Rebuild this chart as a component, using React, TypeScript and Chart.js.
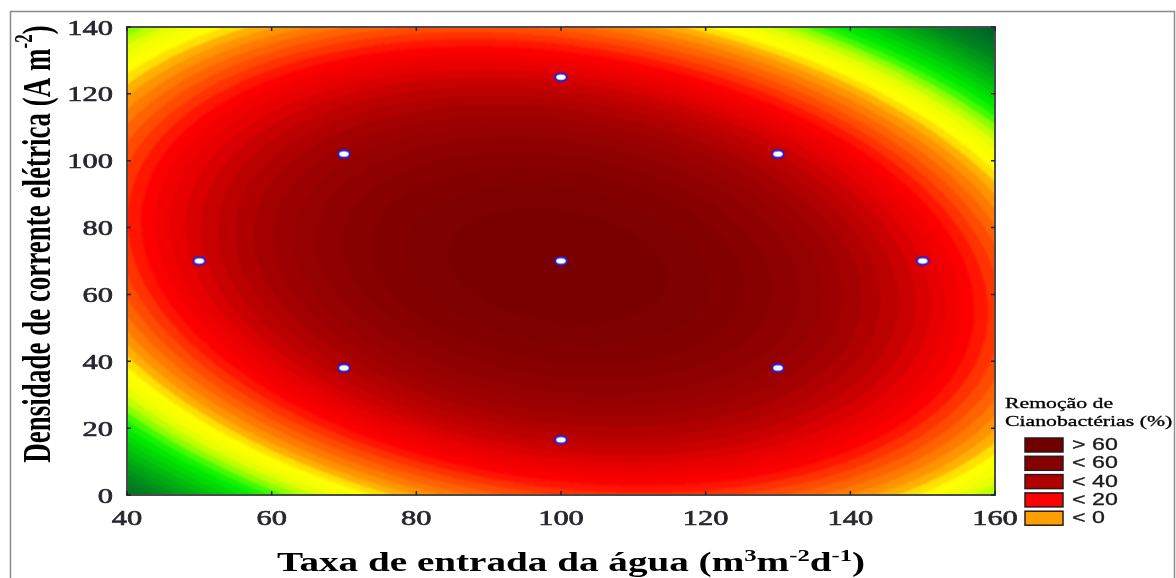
import React, { useEffect, useRef } from 'react';
import { Chart, registerables } from 'chart.js';

Chart.register(...registerables);

// ---------- data ----------
const xTickValues = [40, 60, 80, 100, 120, 140, 160];
const yTickValues = [0, 20, 40, 60, 80, 100, 120, 140];

// experimental design points (white / blue markers)
const designX = [50, 70, 70, 100, 100, 100, 130, 130, 150];
const designY = [70, 102, 38, 125, 70, 16.5, 102, 38, 70];

// fitted response surface (coded units): z = b0 + b1*u + b2*v + b11*u^2 + b22*v^2 + b12*u*v
const surfaceCentre = [100, 66];
const surfaceHalfRange = [60, 70];
const surfaceCoef = [72, 0, 4.85, -68, -71, -28];

// colour scale of the contour bands
const bandStep = 4;
const colourLevels = [-100, -80, -65, -50, -44, -39, -34, -29, -22, -18, -14, -9, -3, 4, 13, 22, 31, 42, 50, 60, 72];
const colourStops = [
  '#005c2c', '#008020', '#00b010', '#00e800', '#20f800', '#80ff00', '#c0ff00', '#f0ff00', '#ffff00', '#ffe000',
  '#ffb000', '#ff8c00', '#ff6800', '#ff4000', '#ff0000', '#e80000', '#c40000', '#a40000', '#950000', '#850000', '#780000',
];

// legend
const legendTitle = ['Remoção de', 'Cianobactérias (%)'];
const legendLabels = ['> 60', '< 60', '< 40', '< 20', '< 0'];
const legendColours = ['#700000', '#850000', '#b00000', '#ff0000', '#ffa000'];

type Seg = { t: string; sup?: boolean };
const xTitle: Seg[] = [
  { t: 'Taxa de entrada da água (m' }, { t: '3', sup: true }, { t: 'm' }, { t: '-2', sup: true },
  { t: 'd' }, { t: '-1', sup: true }, { t: ')' },
];
const yTitle: Seg[] = [{ t: 'Densidade de corrente elétrica (A m' }, { t: '-2', sup: true }, { t: ')' }];

// ---------- helpers ----------
const SX = 1.45; // horizontal stretch of the original picture
const SERIF = '"Liberation Serif", "Times New Roman", serif';
const SANS = '"Liberation Sans", Arial, sans-serif';

function hexToRgb(h: string): number[] {
  return [parseInt(h.slice(1, 3), 16), parseInt(h.slice(3, 5), 16), parseInt(h.slice(5, 7), 16)];
}
const stopRgb = colourStops.map(hexToRgb);

function colourFor(z: number): number[] {
  const n = colourLevels.length;
  if (z <= colourLevels[0]) return stopRgb[0];
  if (z >= colourLevels[n - 1]) return stopRgb[n - 1];
  for (let i = 0; i < n - 1; i++) {
    const a = colourLevels[i], b = colourLevels[i + 1];
    if (z >= a && z <= b) {
      const t = (z - a) / (b - a);
      const c0 = stopRgb[i], c1 = stopRgb[i + 1];
      return [c0[0] + (c1[0] - c0[0]) * t, c0[1] + (c1[1] - c0[1]) * t, c0[2] + (c1[2] - c0[2]) * t];
    }
  }
  return stopRgb[n - 1];
}

function surface(x: number, y: number): number {
  const u = (x - surfaceCentre[0]) / surfaceHalfRange[0];
  const v = (y - surfaceCentre[1]) / surfaceHalfRange[1];
  const [b0, b1, b2, b11, b22, b12] = surfaceCoef;
  return b0 + b1 * u + b2 * v + b11 * u * u + b22 * v * v + b12 * u * v;
}

function drawRich(ctx: CanvasRenderingContext2D, segs: Seg[], size: number, bold: boolean, x: number, y: number, align: string) {
  const font = (s: number) => `${bold ? 'bold ' : ''}${s}px ${SERIF}`;
  let total = 0;
  const parts = segs.map((sg) => {
    const s = sg.sup ? Math.round(size * 0.62) : size;
    ctx.font = font(s);
    const w = ctx.measureText(sg.t).width;
    total += w;
    return { sg, s, w };
  });
  let cx = align === 'center' ? x - total / 2 : x;
  ctx.textAlign = 'left';
  for (const p of parts) {
    ctx.font = font(p.s);
    ctx.fillText(p.sg.t, cx, p.sg.sup ? y - size * 0.36 : y);
    cx += p.w;
  }
}

function stretchedText(ctx: CanvasRenderingContext2D, text: string, font: string, x: number, y: number, align: CanvasTextAlign, baseline: CanvasTextBaseline, colour: string, thicken = 0) {
  ctx.save();
  ctx.translate(x, y);
  ctx.scale(SX, 1);
  ctx.font = font;
  ctx.fillStyle = colour;
  ctx.textAlign = align;
  ctx.textBaseline = baseline;
  ctx.fillText(text, 0, 0);
  if (thicken > 0) {
    ctx.strokeStyle = colour;
    ctx.lineWidth = thicken;
    ctx.strokeText(text, 0, 0);
  }
  ctx.restore();
}

function makeMarker(): HTMLCanvasElement {
  const c = document.createElement('canvas');
  c.width = 16;
  c.height = 11;
  const g = c.getContext('2d')!;
  g.beginPath();
  g.ellipse(8, 5.5, 5.8, 3.7, 0, 0, Math.PI * 2);
  g.fillStyle = '#ffffff';
  g.fill();
  g.lineWidth = 2;
  g.strokeStyle = '#2020d8';
  g.stroke();
  return c;
}

const surfacePlugin = {
  id: 'surfacePlugin',
  beforeDatasetsDraw(chart: any) {
    const { ctx, chartArea: a, scales } = chart;
    const xs = scales.x, ys = scales.y;
    const left = Math.round(a.left), top = Math.round(a.top);
    const w = Math.round(a.right) - left, h = Math.round(a.bottom) - top;
    const off = document.createElement('canvas');
    off.width = w;
    off.height = h;
    const octx = off.getContext('2d')!;
    const img = octx.createImageData(w, h);
    const xv: number[] = [];
    for (let i = 0; i < w; i++) xv.push(xs.getValueForPixel(left + i + 0.5));
    for (let j = 0; j < h; j++) {
      const yv = ys.getValueForPixel(top + j + 0.5);
      for (let i = 0; i < w; i++) {
        const z = surface(xv[i], yv);
        const zb = Math.floor(z / bandStep) * bandStep + bandStep / 2;
        const c = colourFor(zb);
        const k = (j * w + i) * 4;
        img.data[k] = c[0];
        img.data[k + 1] = c[1];
        img.data[k + 2] = c[2];
        img.data[k + 3] = 255;
      }
    }
    octx.putImageData(img, 0, 0);
    ctx.save();
    ctx.beginPath();
    ctx.rect(left, top, w, h);
    ctx.clip();
    ctx.drawImage(off, left, top);
    ctx.filter = 'blur(1.2px)';
    ctx.drawImage(off, left, top);
    ctx.restore();
  },
  afterDraw(chart: any) {
    const { ctx, chartArea: a, scales } = chart;
    const xs = scales.x, ys = scales.y;
    ctx.save();
    // outer frame
    ctx.strokeStyle = '#8a8a8a';
    ctx.lineWidth = 1.5;
    ctx.beginPath();
    ctx.moveTo(10.5, 600);
    ctx.lineTo(10.5, 11.5);
    ctx.lineTo(1174.5, 11.5);
    ctx.lineTo(1174.5, 600);
    ctx.stroke();
    // plot border
    ctx.strokeStyle = '#4a4a4a';
    ctx.lineWidth = 2;
    ctx.strokeRect(a.left, a.top, a.right - a.left, a.bottom - a.top);
    // inner ticks
    ctx.strokeStyle = '#222';
    ctx.lineWidth = 1.5;
    ctx.beginPath();
    xs.ticks.forEach((t: any) => {
      const px = xs.getPixelForValue(t.value);
      ctx.moveTo(px, a.bottom);
      ctx.lineTo(px, a.bottom - 4);
      ctx.moveTo(px, a.top);
      ctx.lineTo(px, a.top + 4);
    });
    ys.ticks.forEach((t: any) => {
      const py = ys.getPixelForValue(t.value);
      ctx.moveTo(a.left, py);
      ctx.lineTo(a.left + 4, py);
      ctx.moveTo(a.right, py);
      ctx.lineTo(a.right - 4, py);
    });
    ctx.stroke();
    // tick labels
    const tickFont = `21px ${SERIF}`;
    xs.ticks.forEach((t: any) => {
      stretchedText(ctx, String(t.value), tickFont, xs.getPixelForValue(t.value), 525, 'center', 'alphabetic', '#26262f', 0.6);
    });
    ys.ticks.forEach((t: any) => {
      stretchedText(ctx, String(t.value), tickFont, 113, ys.getPixelForValue(t.value) + 2, 'right', 'middle', '#26262f', 0.6);
    });
    // axis titles
    ctx.fillStyle = '#000';
    ctx.save();
    ctx.translate(571, 571);
    ctx.scale(SX, 1);
    ctx.textBaseline = 'alphabetic';
    drawRich(ctx, xTitle, 27, true, 0, 0, 'center');
    ctx.restore();
    ctx.save();
    ctx.translate(40, 244);
    ctx.scale(SX, 1);
    ctx.rotate(-Math.PI / 2);
    ctx.textBaseline = 'middle';
    drawRich(ctx, yTitle, 27, true, 0, 0, 'center');
    ctx.restore();
    // legend
    stretchedText(ctx, legendTitle[0], `15px ${SERIF}`, 1005, 408, 'left', 'alphabetic', '#000', 0.3);
    stretchedText(ctx, legendTitle[1], `15px ${SERIF}`, 1005, 426, 'left', 'alphabetic', '#000', 0.3);
    legendLabels.forEach((lab, i) => {
      const yTop = 438 + i * 18.3;
      ctx.fillStyle = legendColours[i];
      ctx.fillRect(1025, yTop, 38, 14);
      ctx.strokeStyle = '#2a1a1a';
      ctx.lineWidth = 1.5;
      ctx.strokeRect(1025, yTop, 38, 14);
      stretchedText(ctx, lab, `16px ${SANS}`, 1072, yTop + 7.5, 'left', 'middle', '#1a1a1a', 0.3);
    });
    ctx.restore();
  },
};

export default function App() {
  const ref = useRef<HTMLCanvasElement | null>(null);
  useEffect(() => {
    if (!ref.current) return;
    const chart = new Chart(ref.current, {
      type: 'scatter',
      data: {
        datasets: [
          {
            label: 'Ensaios',
            data: designX.map((x, i) => ({ x, y: designY[i] })),
            pointStyle: makeMarker() as any,
            pointRadius: 6,
            showLine: false,
          },
        ],
      },
      options: {
        animation: false,
        responsive: false,
        devicePixelRatio: 1,
        layout: { padding: { left: 127, top: 27, right: 181, bottom: 83 } },
        scales: {
          x: { type: 'linear', display: false, min: xTickValues[0], max: xTickValues[xTickValues.length - 1], afterBuildTicks: (s: any) => { s.ticks = xTickValues.map((v) => ({ value: v })); } },
          y: { type: 'linear', display: false, min: yTickValues[0], max: yTickValues[yTickValues.length - 1], afterBuildTicks: (s: any) => { s.ticks = yTickValues.map((v) => ({ value: v })); } },
        },
        plugins: { legend: { display: false }, tooltip: { enabled: false } },
      },
      plugins: [surfacePlugin],
    });
    return () => chart.destroy();
  }, []);
  return (
    <div style={{ position: 'absolute', left: 0, top: 0, width: 1176, height: 578, background: '#fff' }}>
      <canvas ref={ref} width={1176} height={578} style={{ width: 1176, height: 578, display: 'block' }} />
    </div>
  );
}
